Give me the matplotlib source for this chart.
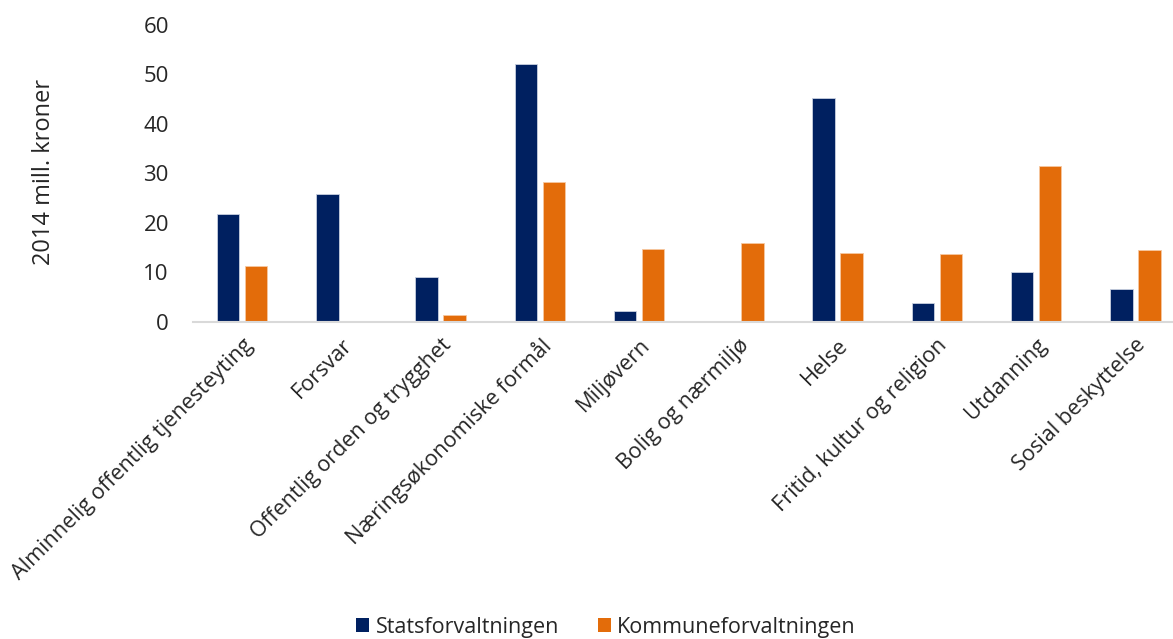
import matplotlib
matplotlib.use("Agg")
import matplotlib.pyplot as plt
import numpy as np
from matplotlib.patches import Patch

categories = [
    "Alminnelig offentlig tjenesteyting", "Forsvar", "Offentlig orden og trygghet",
    "Næringsøkonomiske formål", "Miljøvern", "Bolig og nærmiljø", "Helse",
    "Fritid, kultur og religion", "Utdanning", "Sosial beskyttelse",
]
stats = [21.9, 25.9, 9.0, 52.1, 2.2, 0.0, 45.2, 3.8, 10.0, 6.7]
kommune = [11.3, 0.0, 1.5, 28.3, 14.7, 15.9, 13.9, 13.7, 31.5, 14.6]
series_names = ["Statsforvaltningen", "Kommuneforvaltningen"]
yticks = [0, 10, 20, 30, 40, 50, 60]

navy = "#002060"
orange = "#E36C0A"

plt.rcParams['font.family'] = ['Open Sans', 'DejaVu Sans']

W, H = 1173, 639
fig = plt.figure(figsize=(W / 100, H / 100), dpi=100)
left, right, top, bottom = 192.5, 1185, 25, 322
ax = fig.add_axes([left / W, 1 - bottom / H, (right - left) / W, (bottom - top) / H])

x = np.arange(len(categories))
bw = 0.225
off = 0.141
ax.bar(x - off, stats, bw, color=navy, edgecolor="#c9d0e0", linewidth=0.6, label=series_names[0])
ax.bar(x + off, kommune, bw, color=orange, edgecolor="#f6c8a0", linewidth=0.6, label=series_names[1])

tc = "#262626"
ax.set_xlim(-0.5, len(categories) - 0.5)
ax.set_ylim(0, 60)
ax.set_yticks(yticks)
ax.set_yticklabels([str(v) for v in yticks], fontsize=16, color=tc)
ax.tick_params(axis='y', length=0, pad=17)
ax.set_xticks(x)
ax.set_xticklabels(categories, rotation=45, ha='right', va='top', rotation_mode='anchor',
                   fontsize=15.6, color=tc)
ax.tick_params(axis='x', length=0, pad=9)

for s in ['top', 'right', 'left']:
    ax.spines[s].set_visible(False)
ax.spines['bottom'].set_color("#D9D9D9")
ax.spines['bottom'].set_linewidth(1.5)

fig.text(44 / W, 1 - 172 / H, "2014 mill. kroner", rotation=90, ha='center', va='center',
         fontsize=17, color=tc)

handles = [Patch(facecolor=navy), Patch(facecolor=orange)]
fig.legend(handles, series_names, loc='center', bbox_to_anchor=(606 / W, 1 - 627 / H), ncol=2,
           frameon=False, fontsize=15.5, handlelength=0.6, handleheight=0.6, handletextpad=0.3,
           columnspacing=1.8, labelcolor=tc)

fig.savefig("out.png", dpi=100)
